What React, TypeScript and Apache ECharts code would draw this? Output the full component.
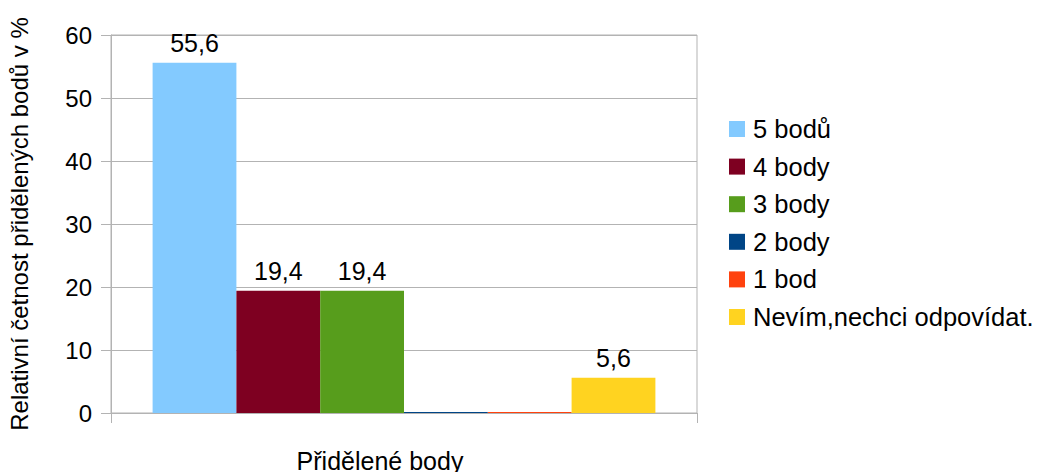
import React, { useEffect, useRef } from "react";
import * as echarts from "echarts";

const categories = [""];
const seriesNames = ["5 bodů", "4 body", "3 body", "2 body", "1 bod", "Nevím,nechci odpovídat."];
const seriesValues = [55.6, 19.4, 19.4, 0, 0, 5.6];
const seriesColors = ["#83CAFF", "#7E0021", "#579D1C", "#004586", "#FF420E", "#FFD320"];
const yTicks = { min: 0, max: 60, interval: 10 };

const FONT = "'Liberation Sans', Arial, sans-serif";

export default function App() {
  const ref = useRef<HTMLDivElement>(null);
  useEffect(() => {
    const chart = echarts.init(ref.current!, null, { renderer: "svg" });
    chart.setOption({
      animation: false,
      textStyle: { fontFamily: FONT },
      grid: {
        left: 111,
        right: 346,
        top: 35,
        bottom: 59,
        outerBoundsMode: "none",
        containLabel: false,
        show: true,
        borderColor: "#b3b3b3",
        borderWidth: 1,
      },
      legend: {
        orient: "vertical",
        left: 724,
        top: 111,
        itemWidth: 16,
        itemHeight: 16,
        itemGap: 11.6,
        icon: "rect",
        textStyle: { fontFamily: FONT, fontSize: 25.5, color: "#000", padding: [0, 0, 0, 3] },
        data: seriesNames,
      },
      xAxis: {
        type: "category",
        data: categories,
        name: "Přidělené body",
        nameLocation: "middle",
        nameGap: 39,
        nameTextStyle: {
          fontFamily: FONT,
          fontSize: 25,
          lineHeight: 18,
          color: "#000",
          padding: [0, 48, 0, 0],
        },
        axisLine: { lineStyle: { color: "#b3b3b3" } },
        axisTick: { show: true, length: 10, lineStyle: { color: "#b3b3b3" } },
        axisLabel: { show: false },
      },
      yAxis: {
        type: "value",
        min: yTicks.min,
        max: yTicks.max,
        interval: yTicks.interval,
        name: "Relativní četnost přidělených bodů v %",
        nameLocation: "middle",
        nameGap: 80,
        nameRotate: 90,
        nameTextStyle: { fontFamily: FONT, fontSize: 24, color: "#000" },
        axisLine: { show: true, lineStyle: { color: "#b3b3b3" } },
        axisTick: { show: true, length: 10, lineStyle: { color: "#b3b3b3" } },
        axisLabel: { fontFamily: FONT, fontSize: 24, color: "#000", margin: 19 },
        splitLine: { lineStyle: { color: "#b3b3b3" } },
      },
      series: seriesNames.map((name, i) => ({
        name,
        type: "bar",
        data: [seriesValues[i]],
        barGap: "0%",
        barCategoryGap: "14.2%",
        barMinHeight: seriesValues[i] === 0 ? 1 : 0,
        itemStyle: { color: seriesColors[i] },
        label: {
          show: seriesValues[i] !== 0,
          position: "top",
          distance: 7,
          fontFamily: FONT,
          fontSize: 25,
          color: "#000",
          formatter: (p: any) => String(p.value).replace(".", ","),
        },
      })),
    });
    return () => chart.dispose();
  }, []);
  return (
    <div
      ref={ref}
      style={{ position: "fixed", left: 0, top: 0, width: 1043, height: 472, background: "#fff" }}
    />
  );
}
